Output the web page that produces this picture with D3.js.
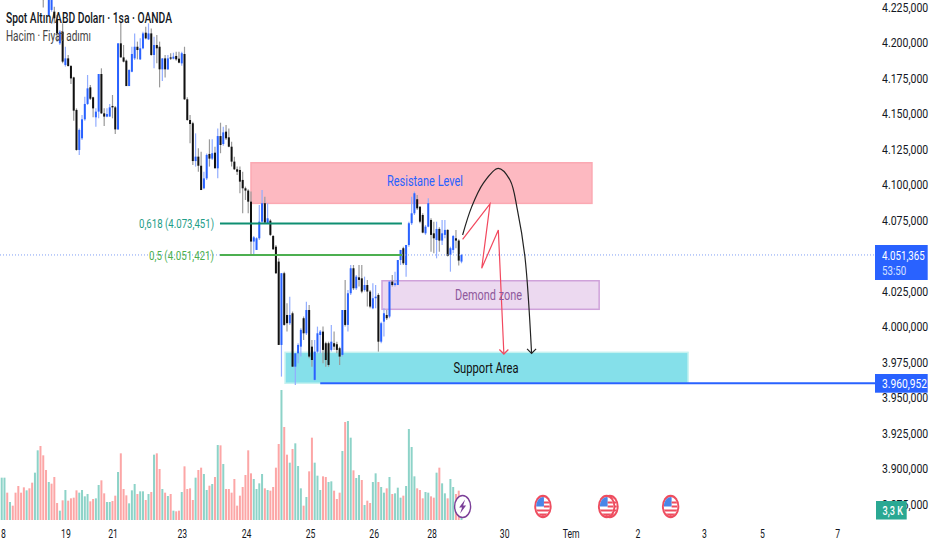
<!DOCTYPE html>
<html>
<head>
<meta charset="utf-8">
<script src="https://cdn.jsdelivr.net/npm/d3@7"></script>
<style>
  html, body { margin: 0; padding: 0; background: #fff; }
  svg { display: block; font-family: Roboto, sans-serif; }
</style>
</head>
<body>
<div id="chart"></div>
<script>
// hourly candles, prices in thousands
const open = [
  4258,4256,4262,4258,4260,4262,4258,4256,4252,4254,4252,4250,4252,4252,4256,
  4240.3,4235.6,4220.3,4223.9,4222.7,4216.8,4200.4,4208.6,4185.1,4189.8,4184.4,4176.4,4153.5,4125.3,4133.5,
  4146.9,4157.7,4169.4,4162.4,4148.3,4152.3,4178.8,4151.1,4148.8,4148.8,4156.3,4155.3,4139.8,4200.4,4190.5,
  4188.2,4170.3,4180.4,4189.8,4198.0,4189.1,4196.9,4207.9,4203.2,4207.4,4192.2,4199.2,4198.0,4182.1,4189.8,
  4182.1,4190.5,4189.6,4191.5,4189.6,4186.3,4192.9,4161.0,4146.4,4144.1,4117.5,4120.6,4114.2,4098.3,4105.3,
  4122.5,4119.2,4123.4,4112.4,4135.1,4129.5,4138.2,4134.2,4127.6,4117.1,4111.7,4111.2,4104.2,4098.3,4096.7,
  4088.9,4060.8,4054.9,4063.1,4074.8,4087.8,4073.7,4075.5,4064.7,4057.2,4046.7,3988.0,4038.5,4009.1,4003.3,
  4010.3,3972.7,3982.1,3986.8,4006.8,3996.2,4012.6,3986.8,3963.4,3983.3,3995.0,3997.4,3989.2,3989.2,3984.5,
  3989.2,3988.5,3985.7,3981.0,4012.6,4002.1,4024.4,4042.0,4027.9,4035.6,4034.9,4026.7,4030.2,4025.6,4013.8,
  4020.9,4023.2,3990.3,4004.4,4009.1,4008.0,4032.6,4030.2,4030.2,4047.8,4056.1,4044.3,4058.4,4073.7,4080.7,
  4090.6,4085.4,4079.5,4066.6,4071.3,4076.0,4066.6,4061.9,4069.7,4061.5,4065.5,4069.0,4051.4,4054.9,4063.1,
  4061.5,4046.7
];
const close = [
  4256,4262,4258,4260,4262,4258,4256,4252,4254,4252,4250,4252,4256,4256,4250,
  4230.9,4232.1,4232.1,4230.9,4218.0,4207.4,4208.6,4187.5,4189.8,4184.4,4175.7,4153.0,4125.3,4139.4,4146.9,
  4157.7,4168.7,4161.4,4154.6,4152.3,4178.8,4151.1,4148.8,4150.6,4155.3,4155.3,4139.8,4200.4,4190.5,4187.5,
  4170.3,4181.6,4192.9,4198.0,4195.7,4196.9,4207.4,4203.9,4207.4,4192.2,4199.2,4196.9,4182.1,4189.8,4182.1,
  4189.8,4189.6,4191.0,4189.1,4186.8,4193.4,4161.0,4146.4,4143.6,4117.5,4120.6,4114.2,4097.1,4105.3,4121.8,
  4119.2,4123.0,4112.4,4135.1,4128.8,4137.7,4133.5,4127.6,4117.1,4111.7,4110.0,4103.0,4098.3,4096.7,4088.9,
  4060.8,4063.8,4063.1,4074.8,4087.8,4074.1,4077.2,4065.5,4055.4,4038.5,3988.0,4038.5,4002.1,4003.3,4009.1,
  3972.7,3982.1,3988.0,3998.6,3996.2,4012.6,3979.8,3977.4,3983.3,3996.2,3997.4,3984.5,3977.4,3973.9,3990.3,
  3986.8,3984.5,3979.8,4012.6,4002.1,4024.4,4042.0,4027.9,4036.1,4033.8,4025.6,4030.2,4025.6,4015.0,4020.9,
  4022.0,3990.3,4003.3,4010.3,4006.8,4032.6,4030.2,4031.4,4047.8,4054.9,4045.5,4058.4,4073.7,4080.7,4094.8,
  4084.2,4074.8,4067.1,4071.3,4087.8,4065.5,4063.1,4069.7,4061.5,4066.6,4069.0,4050.7,4056.1,4064.7,4061.5,
  4047.4,4051.365
];
const high = [
  4261,4264,4265,4262,4265,4265,4261,4258,4257,4256,4255,4254,4258,4258,4258,
  4242.6,4237.9,4233.2,4232.1,4226.2,4220.3,4209.8,4214.5,4198.0,4192.2,4185.1,4176.9,4154.6,4140.5,4149.9,
  4162.8,4178.1,4171.0,4162.8,4154.6,4178.8,4182.8,4154.6,4154.6,4157.7,4164.0,4156.3,4200.4,4215.6,4199.2,
  4189.1,4182.1,4198.0,4207.4,4201.6,4203.9,4208.6,4212.1,4214.5,4210.9,4205.1,4206.3,4201.6,4189.8,4192.2,
  4192.2,4193.4,4193.8,4194.5,4194.5,4194.5,4198.0,4162.4,4149.9,4145.2,4137.0,4126.5,4124.1,4110.0,4122.9,
  4132.8,4132.8,4127.6,4140.5,4144.5,4141.7,4142.9,4140.5,4131.1,4120.6,4113.6,4113.6,4110.0,4099.5,4097.6,
  4096.0,4064.7,4063.8,4086.6,4097.1,4092.4,4087.8,4076.5,4065.5,4058.4,4049.0,4038.5,4039.6,4017.3,4022.0,
  4011.5,3982.1,3989.2,3999.7,4008.0,4018.5,4016.2,3991.5,3991.5,4000.9,3998.6,4000.9,3990.3,3990.3,4002.1,
  3997.4,3990.3,3986.8,4012.6,4033.8,4026.7,4044.3,4044.3,4037.3,4044.3,4044.3,4036.1,4033.8,4026.7,4031.4,
  4030.2,4024.4,4004.4,4013.8,4012.6,4032.6,4037.3,4039.6,4047.8,4054.9,4057.2,4058.4,4074.8,4092.4,4096.0,
  4093.6,4085.4,4080.7,4072.5,4091.3,4077.2,4074.8,4074.8,4070.9,4076.0,4076.0,4069.4,4057.2,4065.5,4068.9,
  4062.4,4052.1
];
const low = [
  4254,4253,4256,4255,4258,4256,4254,4250,4250,4250,4248,4248,4250,4250,4248,
  4225.7,4230.9,4219.2,4222.7,4214.5,4201.6,4199.2,4186.3,4184.0,4184.0,4171.8,4145.9,4124.8,4121.8,4132.3,
  4145.9,4157.0,4160.5,4148.3,4141.7,4147.6,4150.6,4142.2,4148.3,4148.8,4147.6,4136.5,4139.4,4190.5,4187.0,
  4170.3,4170.3,4180.0,4188.7,4189.1,4188.7,4196.2,4203.2,4202.7,4191.7,4182.8,4186.3,4169.4,4173.9,4176.4,
  4181.6,4188.7,4189.1,4188.2,4186.3,4184.7,4160.5,4145.9,4130.0,4114.7,4113.6,4110.0,4097.1,4097.6,4104.2,
  4113.6,4118.2,4112.4,4105.3,4123.0,4128.3,4132.3,4127.2,4113.6,4111.2,4107.7,4094.8,4080.7,4090.1,4080.7,
  4051.4,4051.4,4054.9,4061.9,4073.7,4073.7,4073.2,4064.7,4054.9,4038.0,3988.0,3965.7,4001.6,3997.4,4002.1,
  3972.7,3959.8,3975.1,3979.8,3991.5,3995.0,3978.6,3972.7,3962.9,3982.1,3982.1,3975.1,3972.7,3972.7,3983.3,
  3984.5,3982.1,3973.9,3979.8,4000.9,3997.4,4023.2,4026.7,4026.7,4029.1,4024.4,4025.6,4015.0,4013.8,4013.1,
  4013.8,3983.3,3989.2,3993.9,4005.6,4006.8,4029.1,4029.1,4030.2,4044.3,4044.3,4036.1,4057.2,4072.5,4079.5,
  4083.1,4073.7,4066.6,4065.5,4070.9,4053.7,4052.5,4049.0,4053.7,4058.4,4063.1,4050.2,4039.6,4052.5,4056.1,
  4043.9,4045.5
];
// volume in thousands
const volume = [
  63.5,63.5,41,27,21.5,41,51,41,49,44.5,47.5,56,71,104.5,111,97,75,57,54.5,64.5,
  25.5,14,29.5,45,29,32.5,33.5,44.5,41,45,35.5,39,28,31.5,32.5,52.5,59.5,40,27,27,
  28.5,36.5,72,100,46.5,37,25,44.5,54,39,43,43,30,39,42,98,100,76.5,46.5,41,
  36,39,14,13,14,42,80.5,46.5,47.5,30,63.5,75,78.5,69,45,51.5,54,64.5,112.5,112,
  84,46.5,46.5,41,61.5,21.5,36.5,49.5,67.5,104.5,70,61.5,46.5,55,69,47.5,45,44,49.5,78.5,
  114,195,139.5,98,86,106.5,115,81,47.5,21.5,34.5,73,123.5,86,66.5,45,65.5,64.5,57,58,
  44,31.5,41,103.5,147,148.5,123.5,74.5,63,67.5,60,22.5,29,25.5,57,70,57,49.5,41,47.5,
  64.5,39,40,48.5,33.5,36.5,51,136.5,109.5,65.5,47.5,45,32.5,42,41,35.5,33.5,71,78.5,55,
  40,32.5,61.5,49.5,39,44,3.3
];
// T = rising bar, R = falling bar
const volumeSide = (
  "TTRTRRRRRTRRTTRRRTRR" + "RTRTRRRRTTTTRRTTRRTT" + "RRTRRRTTTRTTRTRTRRTR" + "TRTRRTRRRRTRRTTRTRTR" +
  "TRRRRRRRRRRTTTTRTRRR" + "RTRRTRTTTRTRRTTTRRTT" + "RRRTRTTRTTRTRRTTRTTR" + "TRTTTRTTTTRRRTTRRTRT" +
  "TRTTRRT"
).split("");

const priceTicks = [4225,4200,4175,4150,4125,4100,4075,4025,4000,3975,3950,3925,3900,3875];
const dateTicks = [-0.4,23,40,65,88.2,111.3,134.3,155.2,181.4,205.4,229.5,253.5,274.5,301.6];
const dateLabels = ["18","19","21","23","24","25","26","28","30","Tem","2","3","5","7"];

const lastPrice = 4051.365;
const supportPrice = 3960.952;
const fib618 = 4073.451;
const fib500 = 4051.421;

// drawings, [bar index, price]
const resistanceZone = [[90, 4116.3], [213.1, 4087.7]];
const demandZone = [[137.3, 4033.2], [215.7, 4013.1]];
const supportZone = [[102.3, 3982.8], [247.8, 3961]];
const fibRange = [78.8, 144.5];
const supportLineStart = 115;
const blackArc = [[166.4,4065.4],[169.7,4085.4],[173.9,4102.0],[179.3,4112.4],[183.5,4104.2],[186.2,4083.0],[188.9,4050.1],[191.3,3982.1]];
const redZigzag = [[166.4,4062.4],[176.3,4087.3],[173.3,4042.0],[179.3,4069.0],[181.3,3981.6]];
const flagEvents = [195.4, 219.6, 218.4, 241.5];
const boltEvent = 166.4;

const width = 932, height = 550;
const chartRight = 875, volumeBase = 520;

const svg = d3.select("#chart").append("svg").attr("width", width).attr("height", height);

const x = d3.scaleLinear().domain([0, 166]).range([1.7, 461.5]);
const y = d3.scaleLinear().domain([4225, 3875]).range([8.4, 505.4]);
const yVol = d3.scaleLinear().domain([0, 195]).range([volumeBase, 390]);

const locale = d3.formatLocale({ decimal: ",", thousands: ".", grouping: [3], currency: ["", ""] });
const fmt = locale.format(",.3f");

function squeezed(sel, len) {
  return sel.attr("textLength", len).attr("lengthAdjust", "spacingAndGlyphs");
}

// narrow text on the right side, placed with a transform so it stays inside the page
function sideText(px, py, str, fill, sx, weight) {
  return svg.append("text")
    .attr("transform", "translate(" + px + "," + py + ") scale(" + sx + ",1)")
    .attr("font-size", 13.5).attr("font-weight", weight || 400).attr("fill", fill)
    .text(str);
}

function zone(z, fill, stroke) {
  svg.append("rect")
    .attr("x", x(z[0][0])).attr("y", y(z[0][1]))
    .attr("width", x(z[1][0]) - x(z[0][0]))
    .attr("height", y(z[1][1]) - y(z[0][1]))
    .attr("fill", fill).attr("stroke", stroke).attr("stroke-width", 1.5);
}
zone(resistanceZone, "#fdb9c1", "#fba9b3");
zone(demandZone, "#ecd9f0", "#cfa2da");
zone(supportZone, "#85e0ea", "#c6f2f0");

// volume
svg.selectAll(".vol").data(volume).enter().append("rect")
  .attr("class", "vol")
  .attr("x", (d, i) => x(i) - 1)
  .attr("y", d => yVol(d))
  .attr("width", 2)
  .attr("height", d => volumeBase - yVol(d))
  .attr("fill", (d, i) => volumeSide[i] === "T" ? "#8dd3c8" : "#fca6a6");

// candles
const idx = d3.range(open.length);
svg.selectAll(".wick").data(idx).enter().append("line")
  .attr("class", "wick")
  .attr("x1", i => x(i)).attr("x2", i => x(i))
  .attr("y1", i => y(high[i])).attr("y2", i => y(low[i]))
  .attr("stroke", i => close[i] >= open[i] ? "#92adff" : "#9a9a9a")
  .attr("stroke-width", 1.2);
svg.selectAll(".body").data(idx).enter().append("rect")
  .attr("class", "body")
  .attr("x", i => x(i) - 1)
  .attr("y", i => y(Math.max(open[i], close[i])))
  .attr("width", 2)
  .attr("height", i => Math.max(1, Math.abs(y(open[i]) - y(close[i]))))
  .attr("fill", i => close[i] >= open[i] ? "#2962ff" : "#111");

// last price
svg.append("line")
  .attr("x1", 0).attr("x2", chartRight)
  .attr("y1", y(lastPrice)).attr("y2", y(lastPrice))
  .attr("stroke", "#7f9ff5").attr("stroke-width", 1).attr("stroke-dasharray", "1 2");

// fib levels
[[fib618, "#0f8f72"], [fib500, "#4caf50"]].forEach(f => {
  svg.append("line")
    .attr("x1", x(fibRange[0])).attr("x2", x(fibRange[1]))
    .attr("y1", y(f[0])).attr("y2", y(f[0]))
    .attr("stroke", f[1]).attr("stroke-width", 2);
});
squeezed(svg.append("text").attr("x", 214).attr("y", y(fib618)).attr("dy", "0.35em")
  .attr("text-anchor", "end").attr("font-size", 13.5).attr("fill", "#1f9e88")
  .text("0,618 (" + fmt(fib618) + ")"), 75);
squeezed(svg.append("text").attr("x", 214).attr("y", y(fib500)).attr("dy", "0.35em")
  .attr("text-anchor", "end").attr("font-size", 13.5).attr("fill", "#4caf50")
  .text("0,5 (" + fmt(fib500) + ")"), 65);

// support line
svg.append("line")
  .attr("x1", x(supportLineStart)).attr("x2", chartRight)
  .attr("y1", y(supportPrice)).attr("y2", y(supportPrice))
  .attr("stroke", "#2962ff").attr("stroke-width", 2);

// projected paths
const line = d3.line().x(d => x(d[0])).y(d => y(d[1]));
svg.append("path")
  .attr("d", line.curve(d3.curveCatmullRom)(blackArc))
  .attr("fill", "none").attr("stroke", "#222").attr("stroke-width", 1.2);
svg.append("path")
  .attr("d", line.curve(d3.curveLinear)(redZigzag))
  .attr("fill", "none").attr("stroke", "#f2485e").attr("stroke-width", 1.2);

function arrowHead(p, color) {
  const ax = x(p[0]), ay = y(p[1]);
  svg.append("path")
    .attr("d", d3.line()([[ax - 4.5, ay - 4.5], [ax, ay], [ax + 4.5, ay - 4.5]]))
    .attr("fill", "none").attr("stroke", color).attr("stroke-width", 1.2);
}
arrowHead(blackArc[blackArc.length - 1], "#222");
arrowHead(redZigzag[redZigzag.length - 1], "#f2485e");

// zone labels
squeezed(svg.append("text").attr("x", 425).attr("y", 181).attr("dy", "0.35em")
  .attr("text-anchor", "middle").attr("font-size", 15).attr("fill", "#2962ff").text("Resistane Level"), 76);
squeezed(svg.append("text").attr("x", 488.5).attr("y", 295).attr("dy", "0.35em")
  .attr("text-anchor", "middle").attr("font-size", 15).attr("fill", "#8f5a9c").text("Demond zone"), 67);
squeezed(svg.append("text").attr("x", 486).attr("y", 368).attr("dy", "0.35em")
  .attr("text-anchor", "middle").attr("font-size", 15).attr("fill", "#111").text("Support Area"), 65);

// titles
squeezed(svg.append("text").attr("x", 6).attr("y", 23)
  .attr("font-size", 15).attr("font-weight", 500).attr("fill", "#131722")
  .text("Spot Altın/ABD Doları · 1sa · OANDA"), 166);
squeezed(svg.append("text").attr("x", 6).attr("y", 41)
  .attr("font-size", 15).attr("fill", "#444").text("Hacim · Fiyat adımı"), 85);

// price axis
const axisY = svg.append("g")
  .attr("transform", "translate(882,0)")
  .call(d3.axisRight(y).tickValues(priceTicks).tickSize(0).tickPadding(0).tickFormat(fmt));
axisY.attr("font-family", null).attr("font-size", null);
axisY.select(".domain").remove();
axisY.selectAll("text")
  .attr("font-size", 13.5).attr("fill", "#131722")
  .attr("dy", "0.22em")
  .attr("transform", "scale(0.78,1)");

// date axis
const axisX = svg.append("g")
  .attr("transform", "translate(0,524)")
  .call(d3.axisBottom(x).tickValues(dateTicks).tickSize(0).tickPadding(4)
    .tickFormat((d, i) => dateLabels[i]));
axisX.attr("font-family", null).attr("font-size", null);
axisX.select(".domain").remove();
axisX.selectAll("text")
  .attr("font-size", 13.5).attr("fill", "#131722")
  .attr("transform", "scale(0.64,1)");
// scaling pulls the labels to the left, so put them back at their ticks
axisX.selectAll(".tick").each(function () {
  const t = d3.select(this), px = +t.attr("transform").match(/\(([-\d.]+)/)[1];
  t.select("text").attr("x", 0);
  t.attr("transform", "translate(" + px + ",0)");
});

// price boxes
function priceBox(top, h, fill) {
  svg.append("rect").attr("x", 875).attr("y", top).attr("width", 52.7).attr("height", h).attr("fill", fill);
}
priceBox(245, 35, "#2962ff");
priceBox(374, 18.7, "#2962ff");
sideText(882, 259.5, fmt(lastPrice), "#fff", 0.72);
sideText(882, 274.5, "53:50", "#d5e0ff", 0.72);
sideText(882, 388, fmt(supportPrice), "#fff", 0.76);
svg.append("rect").attr("x", 876).attr("y", 501).attr("width", 30.7).attr("height", 18.5).attr("fill", "#2aa893");
sideText(882.5, 515, "3,3 K", "#fff", 0.68, 500);

// event icons
const defs = svg.append("defs");
defs.append("clipPath").attr("id", "flagClip").append("ellipse").attr("rx", 6.8).attr("ry", 9.6);
flagEvents.forEach(ev => {
  const g = svg.append("g").attr("transform", "translate(" + x(ev) + ",506.5)");
  g.append("ellipse").attr("rx", 8.7).attr("ry", 11.7).attr("fill", "#ee4d5f");
  g.append("ellipse").attr("rx", 6.8).attr("ry", 9.6).attr("fill", "#fff");
  const inner = g.append("g").attr("clip-path", "url(#flagClip)");
  inner.append("rect").attr("x", -7).attr("y", -10).attr("width", 8).attr("height", 10).attr("fill", "#4a86e8");
  inner.append("rect").attr("x", 1).attr("y", -5).attr("width", 6).attr("height", 2).attr("fill", "#ee4d5f");
  inner.append("rect").attr("x", 1).attr("y", -1).attr("width", 6).attr("height", 2).attr("fill", "#ee4d5f");
  inner.append("rect").attr("x", -7).attr("y", 3).attr("width", 14).attr("height", 2).attr("fill", "#ee4d5f");
  inner.append("rect").attr("x", -7).attr("y", 7).attr("width", 14).attr("height", 3).attr("fill", "#ee4d5f");
});
const bolt = svg.append("g").attr("transform", "translate(" + x(boltEvent) + ",506.5)");
bolt.append("ellipse").attr("rx", 8).attr("ry", 11).attr("fill", "#fff").attr("stroke", "#7b3f98").attr("stroke-width", 1.4);
bolt.append("path").attr("d", "M2.5,-7 L-3.5,1 L-0.5,1 L-2.5,7 L3.5,-1 L0.5,-1 Z").attr("fill", "#7b3f98");
</script>
</body>
</html>
